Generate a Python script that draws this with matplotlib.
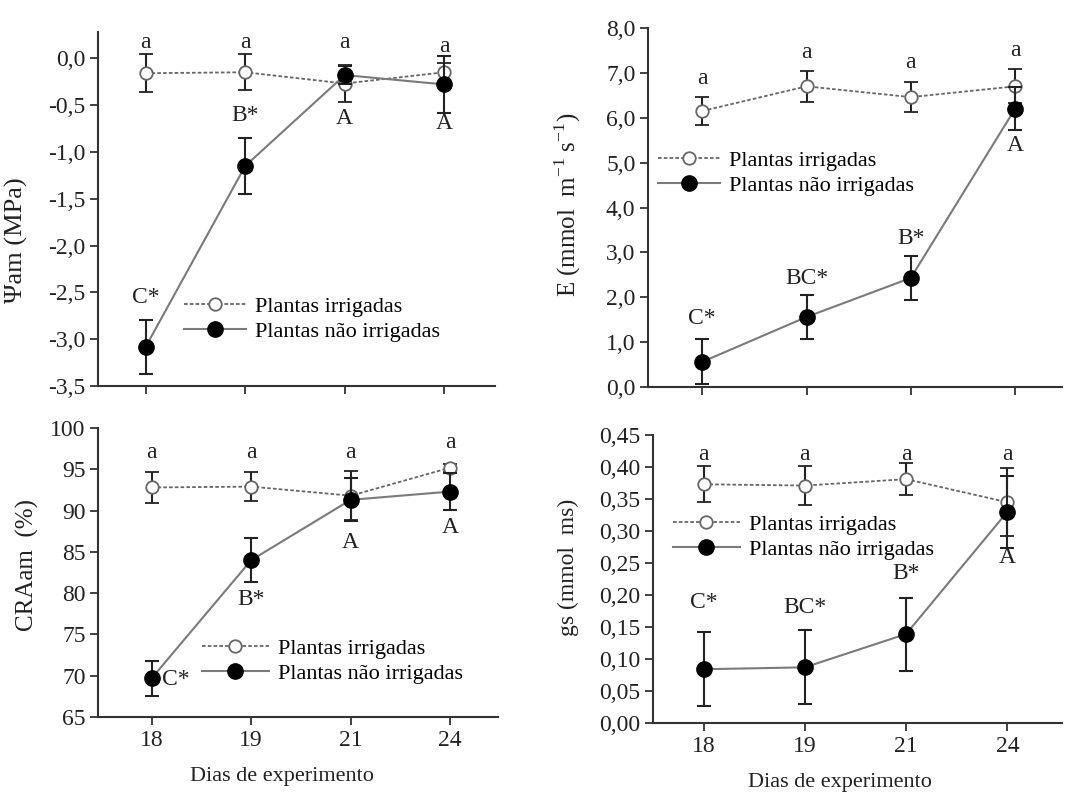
import matplotlib
matplotlib.use('Agg')
import matplotlib.pyplot as plt

plt.rcParams['font.family'] = ['Liberation Serif', 'DejaVu Serif']
plt.rcParams['mathtext.fontset'] = 'custom'
plt.rcParams['mathtext.rm'] = 'Liberation Serif'

# data
dias = ['18', '19', '21', '24']
series_names = ['Plantas irrigadas', 'Plantas não irrigadas']

# Psi am (MPa)
psi_irr = [-0.16, -0.15, -0.27, -0.15]
psi_irr_err = [0.20, 0.19, 0.20, 0.10]
psi_nirr = [-3.08, -1.15, -0.18, -0.28]
psi_nirr_err = [0.29, 0.30, 0.10, 0.30]
psi_ticks = [0.0, -0.5, -1.0, -1.5, -2.0, -2.5, -3.0, -3.5]

# E (mmol m-1 s-1)
e_irr = [6.15, 6.70, 6.46, 6.70]
e_irr_err = [0.31, 0.35, 0.33, 0.38]
e_nirr = [0.56, 1.56, 2.43, 6.20]
e_nirr_err = [0.50, 0.49, 0.50, 0.48]
e_ticks = [0.0, 1.0, 2.0, 3.0, 4.0, 5.0, 6.0, 7.0, 8.0]

# CRA am (%)
cra_irr = [92.8, 92.9, 91.8, 95.2]
cra_irr_err = [1.9, 1.8, 3.0, 0.5]
cra_nirr = [69.7, 84.0, 91.3, 92.3]
cra_nirr_err = [2.1, 2.7, 2.6, 2.2]
cra_ticks = [65, 70, 75, 80, 85, 90, 95, 100]

# gs (mmol ms)
gs_irr = [0.373, 0.371, 0.381, 0.345]
gs_irr_err = [0.028, 0.030, 0.025, 0.053]
gs_nirr = [0.084, 0.087, 0.139, 0.330]
gs_nirr_err = [0.058, 0.058, 0.057, 0.056]
gs_ticks = [0.0, 0.05, 0.10, 0.15, 0.20, 0.25, 0.30, 0.35, 0.40, 0.45]

# significance letters
psi_let_irr = ['a', 'a', 'a', 'a']
psi_let_nirr = ['C*', 'B*', 'A', 'A']
e_let_irr = ['a', 'a', 'a', 'a']
e_let_nirr = ['C*', 'BC*', 'B*', 'A']
cra_let_irr = ['a', 'a', 'a', 'a']
cra_let_nirr = ['C*', 'B*', 'A', 'A']
gs_let_irr = ['a', 'a', 'a', 'a']
gs_let_nirr = ['C*', 'BC*', 'B*', 'A']

W, H = 1067, 794
TXT = '#222222'
fig = plt.figure(figsize=(W / 100, H / 100), dpi=100)


def px_axes(l, r, t, b):
    return fig.add_axes([l / W, 1 - b / H, (r - l) / W, (b - t) / H])


def draw(ax, irr, irr_err, nirr, nirr_err, ticks, fmt, ylim, xlim, ticklabels=True):
    x = list(range(len(dias)))
    c1 = ax.errorbar(x, irr, yerr=irr_err, color='#666666', lw=1.3,
                     dashes=(2, 1.2), marker='o', ms=9, mfc='white',
                     mec='#666666', mew=1.3, ecolor='#222222',
                     elinewidth=1.5, capsize=5, capthick=1.5, zorder=3)
    c2 = ax.errorbar(x, nirr, yerr=nirr_err, color='#7a7a7a', lw=1.5,
                     marker='o', ms=11, mfc='black', mec='black',
                     ecolor='#222222', elinewidth=1.5, capsize=5,
                     capthick=1.5, zorder=4)
    ax.set_xlim(*xlim)
    ax.set_ylim(*ylim)
    ax.set_yticks(ticks)
    ax.set_yticklabels([fmt.format(t).replace('.', ',') for t in ticks])
    ax.set_xticks(x)
    if ticklabels:
        ax.set_xticklabels(dias)
    else:
        ax.set_xticklabels([])
    for s in ['top', 'right']:
        ax.spines[s].set_visible(False)
    for s in ['left', 'bottom']:
        ax.spines[s].set_color('#333333')
        ax.spines[s].set_linewidth(1.5)
    ax.tick_params(direction='out', length=6, width=1.3, color='#333333',
                   labelsize=17, labelcolor=TXT, pad=3)
    return c1, c2


def letters(ax, labs, ys, x0=0):
    for i, (lab, y) in enumerate(zip(labs, ys)):
        ax.text(x0 + i, y, lab, ha='center', va='center', fontsize=17, color=TXT)


def legend(ax, handles, x_px, y_px, hl):
    ax.legend(handles, series_names, loc='center left',
              bbox_to_anchor=(x_px / W, 1 - y_px / H),
              bbox_transform=fig.transFigure, frameon=False, fontsize=16,
              handlelength=hl, handletextpad=0.4, labelspacing=0.2,
              borderpad=0, borderaxespad=0)


def ylab(text, x_px, y_px, size):
    fig.text(x_px / W, 1 - y_px / H, text, rotation=90, ha='center',
             va='center', fontsize=size, color=TXT)


def xlab(text, x_px, y_px):
    fig.text(x_px / W, 1 - y_px / H, text, ha='center', va='center',
             fontsize=16, color=TXT)


# panel 1
ax1 = px_axes(98, 495, 32, 386)
h = draw(ax1, psi_irr, psi_irr_err, psi_nirr, psi_nirr_err, psi_ticks,
         '{:.1f}', (-3.5, 0.28), (-0.48, 3.51), ticklabels=False)
letters(ax1, psi_let_irr, [0.17, 0.17, 0.17, 0.12])
letters(ax1, psi_let_nirr, [-2.55, -0.61, -0.64, -0.70])
legend(ax1, [h[0][0], h[1][0]], 184, 319, 2.8)
ylab('Ψam (MPa)', 16, 240, 19)

# panel 2
ax2 = px_axes(648, 1062, 28, 387)
h = draw(ax2, e_irr, e_irr_err, e_nirr, e_nirr_err, e_ticks,
         '{:.1f}', (0, 8.0), (-0.52, 3.45), ticklabels=False)
letters(ax2, e_let_irr, [6.88, 7.46, 7.24, 7.50])
letters(ax2, e_let_nirr, [1.53, 2.42, 3.30, 5.39])
legend(ax2, [h[0][0], h[1][0]], 658, 173, 2.8)
ylab(r'E (mmol  m$^{-1}$ s$^{-1}$)', 568, 205, 18)

# panel 3
ax3 = px_axes(98, 498, 428, 717)
h = draw(ax3, cra_irr, cra_irr_err, cra_nirr, cra_nirr_err, cra_ticks,
         '{:d}', (65, 100), (-0.54, 3.48))
letters(ax3, cra_let_irr, [97.0, 97.0, 97.0, 98.3])
letters(ax3, cra_let_nirr[1:], [79.2, 86.1, 88.0], x0=1)
ax3.text(0.1, 69.6, cra_let_nirr[0], ha='left', va='center', fontsize=17,
         color=TXT)
legend(ax3, [h[0][0], h[1][0]], 202, 661, 3.0)
xlab('Dias de experimento', 282, 777)
ylab('CRAam  (%)', 27, 565, 18)

# panel 4
ax4 = px_axes(653, 1062, 435, 723)
h = draw(ax4, gs_irr, gs_irr_err, gs_nirr, gs_nirr_err, gs_ticks,
         '{:.2f}', (0, 0.45), (-0.5, 3.54))
letters(ax4, gs_let_irr, [0.419, 0.419, 0.419, 0.419])
letters(ax4, gs_let_nirr, [0.1875, 0.181, 0.234, 0.258])
legend(ax4, [h[0][0], h[1][0]], 673, 537, 3.0)
xlab('Dias de experimento', 840, 783)
ylab('gs (mmol  ms)', 568, 567, 17)

fig.savefig('out.png', dpi=100)
